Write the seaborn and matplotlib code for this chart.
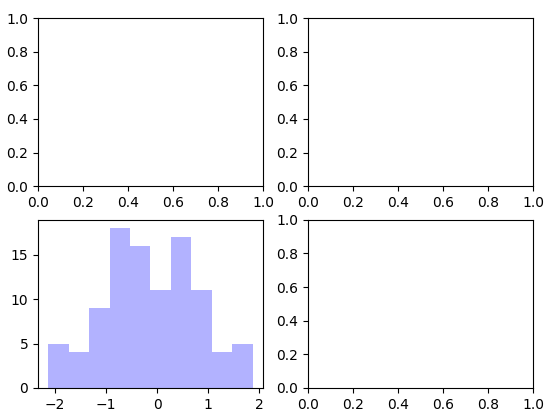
import seaborn as sns
import matplotlib.pyplot as plt
import numpy as np

# Histogram: 10 bins between about -2.13 and 1.87
bin_edges = [-2.13, -1.73, -1.33, -0.93, -0.53, -0.13, 0.27, 0.67, 1.07, 1.47, 1.87]
counts = [5, 4, 9, 18, 16, 11, 17, 11, 4, 5]

centers = [(bin_edges[i] + bin_edges[i + 1]) / 2 for i in range(len(counts))]

fig, axes = plt.subplots(2, 2, figsize=(5.5, 4.19), dpi=100)
plt.subplots_adjust(left=0.069, right=0.969, top=0.957, bottom=0.074,
                    wspace=0.2, hspace=0.2)

sns.histplot(x=centers, weights=counts, bins=bin_edges, color='b',
             alpha=0.3, linewidth=0, ax=axes[1, 0])
axes[1, 0].set_ylabel('')
axes[1, 0].set_xticks([-2, -1, 0, 1, 2])
axes[1, 0].set_yticks([0, 5, 10, 15])

plt.savefig('out.png', dpi=100)
